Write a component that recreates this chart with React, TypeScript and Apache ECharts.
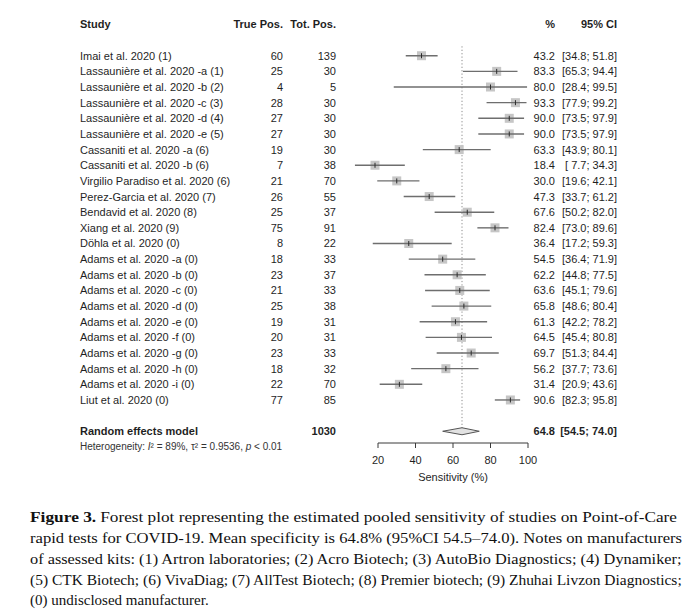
import React, { useEffect, useRef } from "react";
import * as echarts from "echarts";

// ---------- data ----------
const studies = [
  "Imai et al. 2020 (1)",
  "Lassaunière et al. 2020 -a (1)",
  "Lassaunière et al. 2020 -b (2)",
  "Lassaunière et al. 2020 -c (3)",
  "Lassaunière et al. 2020 -d (4)",
  "Lassaunière et al. 2020 -e (5)",
  "Cassaniti et al. 2020 -a (6)",
  "Cassaniti et al. 2020 -b (6)",
  "Virgilio Paradiso et al. 2020 (6)",
  "Perez-Garcia et al. 2020 (7)",
  "Bendavid et al. 2020 (8)",
  "Xiang et al. 2020 (9)",
  "Döhla et al. 2020 (0)",
  "Adams et al. 2020 -a (0)",
  "Adams et al. 2020 -b (0)",
  "Adams et al. 2020 -c (0)",
  "Adams et al. 2020 -d (0)",
  "Adams et al. 2020 -e (0)",
  "Adams et al. 2020 -f (0)",
  "Adams et al. 2020 -g (0)",
  "Adams et al. 2020 -h (0)",
  "Adams et al. 2020 -i (0)",
  "Liut et al. 2020 (0)",
];
const truePos = [60, 25, 4, 28, 27, 27, 19, 7, 21, 26, 25, 75, 8, 18, 23, 21, 25, 19, 20, 23, 18, 22, 77];
const totPos = [139, 30, 5, 30, 30, 30, 30, 38, 70, 55, 37, 91, 22, 33, 37, 33, 38, 31, 31, 33, 32, 70, 85];
const sens = [43.2, 83.3, 80.0, 93.3, 90.0, 90.0, 63.3, 18.4, 30.0, 47.3, 67.6, 82.4, 36.4, 54.5, 62.2, 63.6, 65.8, 61.3, 64.5, 69.7, 56.2, 31.4, 90.6];
const ciLow = [34.8, 65.3, 28.4, 77.9, 73.5, 73.5, 43.9, 7.7, 19.6, 33.7, 50.2, 73.0, 17.2, 36.4, 44.8, 45.1, 48.6, 42.2, 45.4, 51.3, 37.7, 20.9, 82.3];
const ciHigh = [51.8, 94.4, 99.5, 99.2, 97.9, 97.9, 80.1, 34.3, 42.1, 61.2, 82.0, 89.6, 59.3, 71.9, 77.5, 79.6, 80.4, 78.2, 80.8, 84.4, 73.6, 43.6, 95.8];

const pooledEst = 64.8;
const pooledLow = 54.5;
const pooledHigh = 74.0;
const pooledTotal = 1030;
const heterogeneity = { i2: "89%", tau2: "0.9536", p: "< 0.01" };

const xTicks = [20, 40, 60, 80, 100];
const headers = ["Study", "True Pos.", "Tot. Pos.", "%", "95% CI"];

const captionBold = "Figure 3.";
const captionLines = [
  " Forest plot representing the estimated pooled sensitivity of studies on Point-of-Care",
  "rapid tests for COVID-19. Mean specificity is 64.8% (95%CI 54.5–74.0). Notes on manufacturers",
  "of assessed kits: (1) Artron laboratories; (2) Acro Biotech; (3) AutoBio Diagnostics; (4) Dynamiker;",
  "(5) CTK Biotech; (6) VivaDiag; (7) AllTest Biotech; (8) Premier biotech; (9) Zhuhai Livzon Diagnostics;",
  "(0) undisclosed manufacturer.",
];

// ---------- layout ----------
const FONT = "'Liberation Sans', Arial, Helvetica, sans-serif";
const SERIF = "'Liberation Serif', 'Times New Roman', serif";
const TXT = "#1f1f1f";
const AXIS_COL = "#3a3a3a";
const COL = { name: 80, tp: 283, tot: 336, pct: 555, ci: 617 };
const Y_MIN = 0.5;
const Y_MAX = 27.75;
const HEADER_ROW = 1;
const FIRST_ROW = 3;
const POOLED_ROW = 27;
const HET_ROW = 28;

const fmt1 = (v: number) => v.toFixed(1);
const fmtCI = (lo: number, hi: number) =>
  `[${lo < 10 ? " " : ""}${fmt1(lo)}; ${fmt1(hi)}]`;

function txt(x: number, y: number, text: string, align: string, bold = false, size = 11) {
  return {
    type: "text",
    x,
    y,
    style: {
      text,
      fill: TXT,
      fontFamily: FONT,
      fontSize: size,
      fontWeight: bold ? "bold" : "normal",
      align,
      verticalAlign: "middle",
    },
  };
}

function measureDom(text: string, size: number, bold: boolean) {
  const span = document.createElement("span");
  span.style.position = "absolute";
  span.style.visibility = "hidden";
  span.style.whiteSpace = "pre";
  span.style.fontFamily = SERIF;
  span.style.fontSize = size + "px";
  span.style.fontWeight = bold ? "bold" : "normal";
  span.textContent = text;
  document.body.appendChild(span);
  const w = span.getBoundingClientRect().width;
  document.body.removeChild(span);
  return w;
}

export default function App() {
  const ref = useRef<HTMLDivElement>(null);

  useEffect(() => {
    document.body.style.margin = "0";
    if (!ref.current) return;
    const chart = echarts.init(ref.current, undefined, { renderer: "svg" });

    const capSize = 15;
    const capLeft = 30;
    const capWidth = 652;
    const capY0 = 517;
    const capStep = 20.8;
    const captionGraphics: any[] = [];
    captionLines.forEach((line, i) => {
      const justify = i < captionLines.length - 1;
      const y = capY0 + i * capStep;
      if (i === 0) {
        const wb = measureDom(captionBold, capSize, true);
        const wr = measureDom(line, capSize, false);
        const sx = capWidth / (wb + wr);
        captionGraphics.push({
          type: "text",
          x: capLeft,
          y,
          scaleX: sx,
          style: {
            text: captionBold,
            fill: "#111",
            fontFamily: SERIF,
            fontSize: capSize,
            fontWeight: "bold",
            verticalAlign: "middle",
            align: "left",
          },
        });
        captionGraphics.push({
          type: "text",
          x: capLeft + wb * sx + 4,
          y,
          scaleX: (capWidth - wb * sx - 4) / wr,
          style: {
            text: line.trim(),
            fill: "#111",
            fontFamily: SERIF,
            fontSize: capSize,
            verticalAlign: "middle",
            align: "left",
          },
        });
        return;
      }
      const w = measureDom(line, capSize, false);
      captionGraphics.push({
        type: "text",
        x: capLeft,
        y,
        scaleX: justify ? capWidth / w : 1,
        style: {
          text: line,
          fill: "#111",
          fontFamily: SERIF,
          fontSize: capSize,
          verticalAlign: "middle",
          align: "left",
        },
      });
    });

    const option: any = {
      animation: false,
      backgroundColor: "#ffffff",
      grid: { left: 378, right: 165, top: 16.6, height: 426.4 },
      xAxis: {
        type: "value",
        min: 20,
        max: 100,
        interval: 20,
        position: "bottom",
        axisLine: { show: false, onZero: false },
        axisTick: { show: false },
        axisLabel: {
          color: TXT,
          fontFamily: FONT,
          fontSize: 11,
          margin: 11,
          formatter: (v: number) => (xTicks.includes(v) ? String(v) : ""),
        },
        splitLine: { show: false },
        name: "Sensitivity (%)",
        nameLocation: "middle",
        nameGap: 28,
        nameTextStyle: { color: TXT, fontFamily: FONT, fontSize: 11 },
      },
      yAxis: {
        type: "value",
        inverse: true,
        min: Y_MIN,
        max: Y_MAX,
        axisLine: { show: false },
        axisTick: { show: false },
        axisLabel: { show: false },
        splitLine: { show: false },
      },
      graphic: captionGraphics,
      series: [
        // x axis line and ticks, placed through the axis scale
        {
          type: "custom",
          clip: false,
          silent: true,
          z: 1,
          data: xTicks.map((v) => [v, Y_MAX]),
          encode: { x: 0, y: 1 },
          renderItem: (p: any, api: any) => {
            const t = api.coord([api.value(0), api.value(1)]);
            const children: any[] = [
              {
                type: "line",
                shape: { x1: t[0], y1: t[1], x2: t[0], y2: t[1] + 5 },
                style: { stroke: AXIS_COL, lineWidth: 1 },
              },
            ];
            if (p.dataIndex === 0) {
              const a = api.coord([xTicks[0], Y_MAX]);
              const b = api.coord([xTicks[xTicks.length - 1], Y_MAX]);
              children.push({
                type: "line",
                shape: { x1: a[0], y1: a[1], x2: b[0], y2: b[1] },
                style: { stroke: AXIS_COL, lineWidth: 1 },
              });
            }
            return { type: "group", children };
          },
        },
        // reference (pooled) dotted line
        {
          type: "custom",
          clip: false,
          silent: true,
          z: 1,
          data: [[pooledEst, FIRST_ROW - 0.6, POOLED_ROW]],
          encode: { x: 0, y: [1, 2] },
          renderItem: (_p: any, api: any) => {
            const a = api.coord([api.value(0), api.value(1)]);
            const b = api.coord([api.value(0), api.value(2)]);
            return {
              type: "line",
              shape: { x1: a[0], y1: a[1], x2: b[0], y2: b[1] },
              style: { stroke: "#8a8a8a", lineWidth: 1, lineDash: [1.2, 2.2] },
            };
          },
        },
        // study squares and CIs
        {
          type: "custom",
          clip: false,
          silent: true,
          z: 2,
          data: studies.map((_, i) => [sens[i], ciLow[i], ciHigh[i], FIRST_ROW + i]),
          encode: { x: [0, 1, 2], y: 3 },
          renderItem: (_p: any, api: any) => {
            const y = api.value(3);
            const c = api.coord([api.value(0), y]);
            const lo = api.coord([api.value(1), y]);
            const hi = api.coord([api.value(2), y]);
            const s = 9;
            return {
              type: "group",
              children: [
                {
                  type: "rect",
                  shape: { x: c[0] - s / 2, y: c[1] - s / 2, width: s, height: s },
                  style: { fill: "#c6c6c6" },
                },
                {
                  type: "line",
                  shape: { x1: lo[0], y1: lo[1], x2: hi[0], y2: hi[1] },
                  style: { stroke: "#6e6e6e", lineWidth: 1.4 },
                },
                {
                  type: "line",
                  shape: { x1: c[0], y1: c[1] - 2.5, x2: c[0], y2: c[1] + 2.5 },
                  style: { stroke: "#2a2a2a", lineWidth: 1 },
                },
              ],
            };
          },
        },
        // pooled diamond
        {
          type: "custom",
          clip: false,
          silent: true,
          z: 3,
          data: [[pooledEst, pooledLow, pooledHigh, POOLED_ROW]],
          encode: { x: [0, 1, 2], y: 3 },
          renderItem: (_p: any, api: any) => {
            const y = api.value(3);
            const c = api.coord([api.value(0), y]);
            const lo = api.coord([api.value(1), y]);
            const hi = api.coord([api.value(2), y]);
            const h = 3.5;
            return {
              type: "polygon",
              shape: {
                points: [
                  [lo[0], lo[1]],
                  [c[0], c[1] - h],
                  [hi[0], hi[1]],
                  [c[0], c[1] + h],
                ],
              },
              style: { fill: "#e2e2e2", stroke: "#555555", lineWidth: 1 },
            };
          },
        },
        // table text for each study
        {
          type: "custom",
          clip: false,
          silent: true,
          z: 4,
          data: studies.map((_, i) => [20, FIRST_ROW + i]),
          encode: { x: 0, y: 1 },
          renderItem: (p: any, api: any) => {
            const i = p.dataIndex;
            const y = api.coord([20, api.value(1)])[1];
            return {
              type: "group",
              children: [
                txt(COL.name, y, studies[i], "left"),
                txt(COL.tp, y, String(truePos[i]), "right"),
                txt(COL.tot, y, String(totPos[i]), "right"),
                txt(COL.pct, y, fmt1(sens[i]), "right"),
                txt(COL.ci, y, fmtCI(ciLow[i], ciHigh[i]), "right"),
              ],
            };
          },
        },
        // header, pooled and heterogeneity rows
        {
          type: "custom",
          clip: false,
          silent: true,
          z: 4,
          data: [[20, HEADER_ROW], [20, POOLED_ROW], [20, HET_ROW]],
          encode: { x: 0, y: 1 },
          renderItem: (p: any, api: any) => {
            const y = api.coord([20, api.value(1)])[1];
            if (p.dataIndex === 0) {
              return {
                type: "group",
                children: [
                  txt(COL.name, y, headers[0], "left", true),
                  txt(COL.tp, y, headers[1], "right", true),
                  txt(COL.tot, y, headers[2], "right", true),
                  txt(COL.pct, y, headers[3], "right", true),
                  txt(COL.ci, y, headers[4], "right", true),
                ],
              };
            }
            if (p.dataIndex === 1) {
              return {
                type: "group",
                children: [
                  txt(COL.name, y, "Random effects model", "left", true),
                  txt(COL.tot, y, String(pooledTotal), "right", true),
                  txt(COL.pct, y, fmt1(pooledEst), "right", true),
                  txt(COL.ci, y, fmtCI(pooledLow, pooledHigh), "right", true),
                ],
              };
            }
            return {
              type: "text",
              x: COL.name,
              y,
              style: {
                text: `Heterogeneity: {i|I}² = ${heterogeneity.i2}, τ² = ${heterogeneity.tau2}, {i|p} ${heterogeneity.p}`,
                fill: "#333",
                fontFamily: FONT,
                fontSize: 10,
                align: "left",
                verticalAlign: "middle",
                rich: {
                  i: { fontStyle: "italic", fontFamily: FONT, fontSize: 10, fill: "#333" },
                },
              },
            };
          },
        },
      ],
    };

    chart.setOption(option);
    return () => chart.dispose();
  }, []);

  return (
    <div
      ref={ref}
      style={{ position: "absolute", left: 0, top: 0, width: 693, height: 609, background: "#fff" }}
    />
  );
}
